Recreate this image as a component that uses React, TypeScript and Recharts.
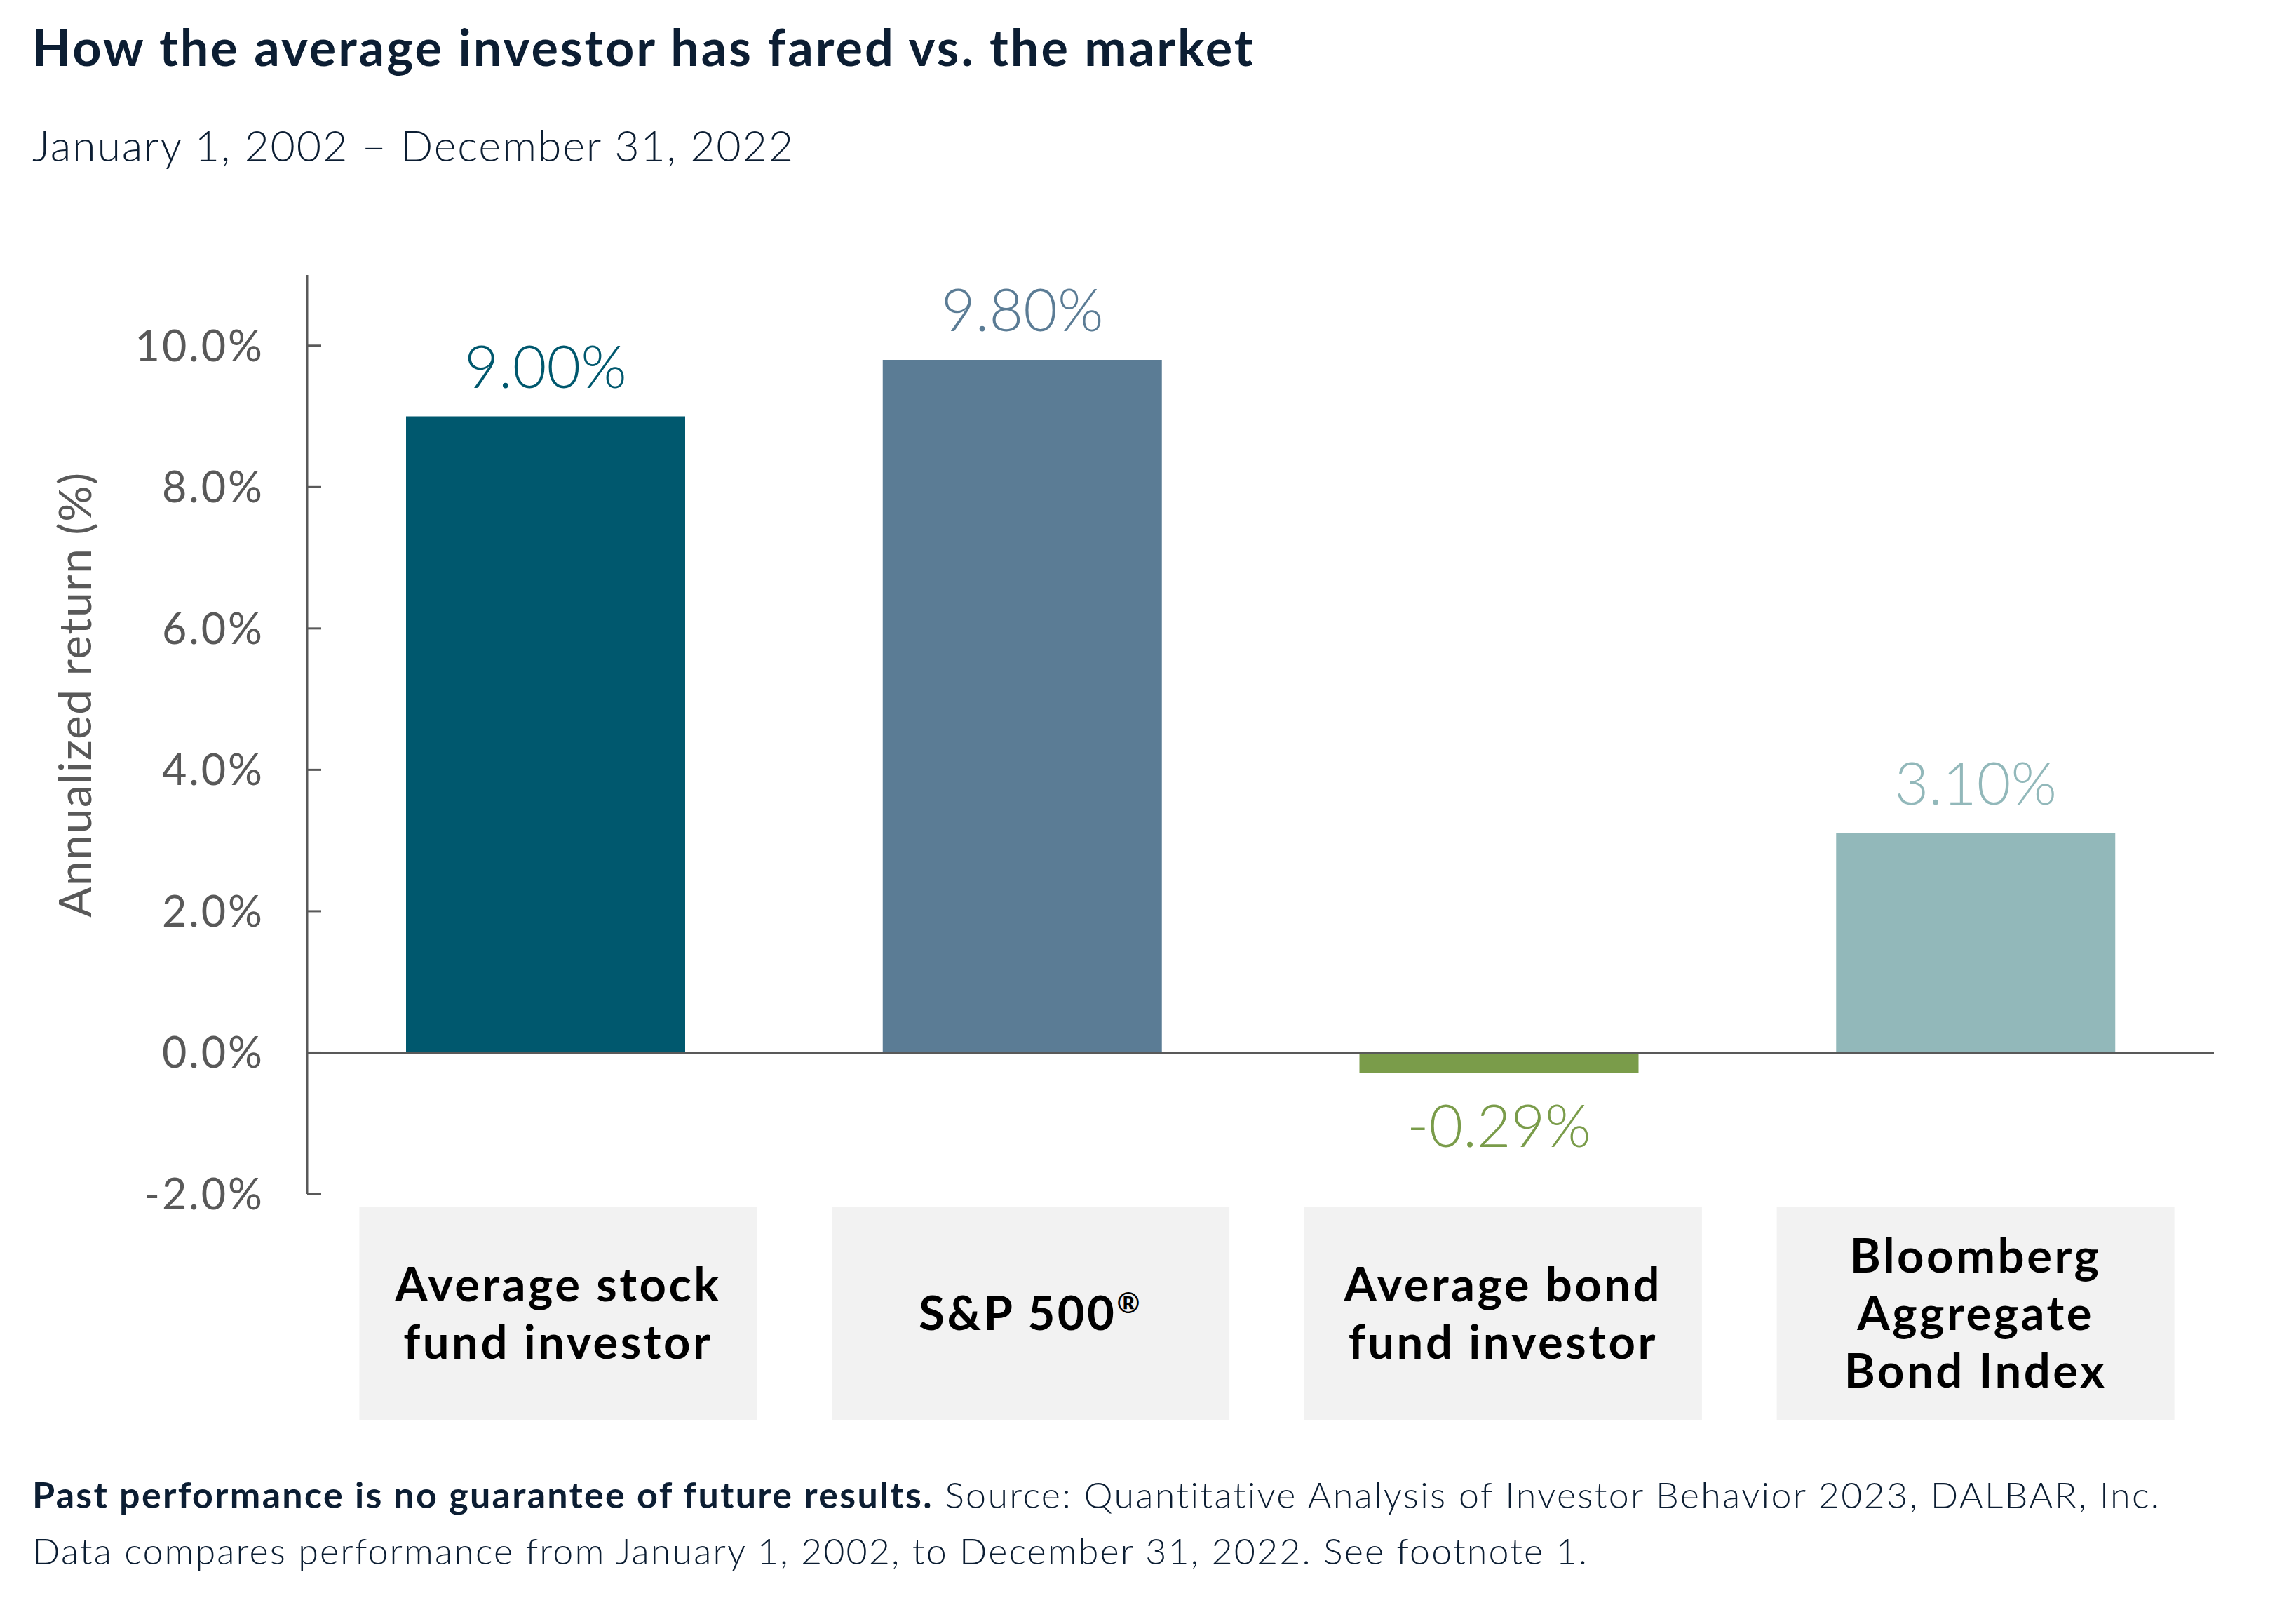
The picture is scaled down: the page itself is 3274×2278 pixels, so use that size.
import React from 'react';
import { BarChart, Bar, XAxis, YAxis, Cell, LabelList, ReferenceLine, Label } from 'recharts';

const categories = [
  'Average stock fund investor',
  'S&P 500®',
  'Average bond fund investor',
  'Bloomberg Aggregate Bond Index',
];
const categoryLines = [
  ['Average stock', 'fund investor'],
  ['S&P 500®'],
  ['Average bond', 'fund investor'],
  ['Bloomberg', 'Aggregate', 'Bond Index'],
];
const returns = [9.0, 9.8, -0.29, 3.1];
const barColors = ['#00586E', '#5B7C95', '#7A9C4A', '#92B8BA'];
const yTicks = [-2, 0, 2, 4, 6, 8, 10];

const W = 3274;
const H = 2278;
const FONT = 'Lato, "Open Sans", sans-serif';
const NAVY = '#0C1E33';
const AXIS = '#595959';

const data = categories.map((name, i) => ({ name, value: returns[i] }));

const YTick = (props: any) => {
  const { x, y, payload } = props;
  const axisX = x + 61;
  return (
    <g>
      <line x1={axisX} x2={axisX + 20} y1={y} y2={y} stroke={AXIS} strokeWidth={3} />
      <text x={x} y={y} dy={22} textAnchor="end" fill={AXIS} fontSize={61} letterSpacing={3} fontFamily={FONT}>
        {payload.value.toFixed(1) + '%'}
      </text>
    </g>
  );
};

// split a trailing ® so it can be drawn as a superscript
const renderLine = (t: string) => {
  if (t.endsWith('®')) {
    return (
      <>
        {t.slice(0, -1)}
        <tspan fontSize={40} dy={-24}>®</tspan>
      </>
    );
  }
  return t;
};

const XTick = (props: any) => {
  const { x, y, index } = props;
  const lines = categoryLines[index] || [];
  const cx = x + (3 - index) * 6;
  const boxW = 567;
  const boxTop = y + 18;
  const boxH = 304;
  const mid = boxTop + boxH / 2;
  const step = 82;
  return (
    <g>
      <rect x={cx - boxW / 2} y={boxTop} width={boxW} height={boxH} fill="#F2F2F2" />
      {lines.map((t, i) => (
        <text
          key={i}
          x={cx}
          y={mid - ((lines.length - 1) * step) / 2 + i * step + 24}
          textAnchor="middle"
          fontSize={67}
          fontWeight={700}
          letterSpacing={3.5}
          fill="#000"
          fontFamily={FONT}
        >
          {renderLine(t)}
        </text>
      ))}
    </g>
  );
};

const ValueLabel = (props: any) => {
  const vb = props.viewBox || props;
  const { index, value } = props;
  const x = vb.x;
  const y = vb.y;
  const w = vb.width;
  const h = vb.height;
  const top = Math.min(y, y + h);
  const bottom = Math.max(y, y + h);
  const ty = value >= 0 ? top - 41 : bottom + 105;
  return (
    <text
      x={x + w / 2}
      y={ty}
      textAnchor="middle"
      fontSize={84}
      fontWeight={300}
      fill={barColors[index]}
      fontFamily={FONT}
    >
      {Number(value).toFixed(2) + '%'}
    </text>
  );
};

export default function App() {
  return (
    <div style={{ position: 'absolute', left: 0, top: 0, width: W, height: H, background: '#fff', fontFamily: FONT }}>
      <svg width={W} height={H} style={{ position: 'absolute', left: 0, top: 0 }}>
        <text x={46} y={94} fontSize={72} fontWeight={700} letterSpacing={3} fill={NAVY} fontFamily={FONT}>
          How the average investor has fared vs. the market
        </text>
        <text x={46} y={230} fontSize={61} fontWeight={300} letterSpacing={1.8} fill={NAVY} fontFamily={FONT}>
          January 1, 2002 – December 31, 2022
        </text>
        <text x={46} y={2150} fontSize={52} letterSpacing={2.3} fill={NAVY} fontFamily={FONT}>
          <tspan fontWeight={700}>Past performance is no guarantee of future results.</tspan>
          <tspan fontWeight={300}> Source: Quantitative Analysis of Investor Behavior 2023, DALBAR, Inc.</tspan>
        </text>
        <text x={46} y={2230} fontSize={52} fontWeight={300} letterSpacing={2.1} fill={NAVY} fontFamily={FONT}>
          Data compares performance from January 1, 2002, to December 31, 2022. See footnote 1.
        </text>
      </svg>
      <div style={{ position: 'absolute', left: 0, top: 0 }}>
        <BarChart
          width={W}
          height={H}
          data={data}
          margin={{ top: 392, right: 117, bottom: 236, left: 0 }}
        >
          <XAxis
            dataKey="name"
            axisLine={false}
            tickLine={false}
            tickSize={0}
            tickMargin={0}
            height={340}
            interval={0}
            tick={<XTick />}
          />
          <YAxis
            width={438}
            domain={[-2, 11]}
            ticks={yTicks}
            allowDataOverflow
            axisLine={{ stroke: AXIS, strokeWidth: 3 }}
            tickLine={false}
            tickSize={0}
            tickMargin={61}
            tick={<YTick />}
          >
            <Label
              content={() => (
                <text
                  x={0}
                  y={0}
                  transform="translate(130, 990) rotate(-90)"
                  textAnchor="middle"
                  fontSize={64}
                  letterSpacing={1.6}
                  fill={AXIS}
                  fontFamily={FONT}
                >
                  Annualized return (%)
                </text>
              )}
            />
          </YAxis>
          <Bar dataKey="value" barSize={398} isAnimationActive={false}>
            {data.map((d, i) => (
              <Cell key={d.name} fill={barColors[i]} />
            ))}
            <LabelList dataKey="value" content={<ValueLabel />} />
          </Bar>
          <ReferenceLine y={0} stroke={AXIS} strokeWidth={3} />
        </BarChart>
      </div>
    </div>
  );
}
